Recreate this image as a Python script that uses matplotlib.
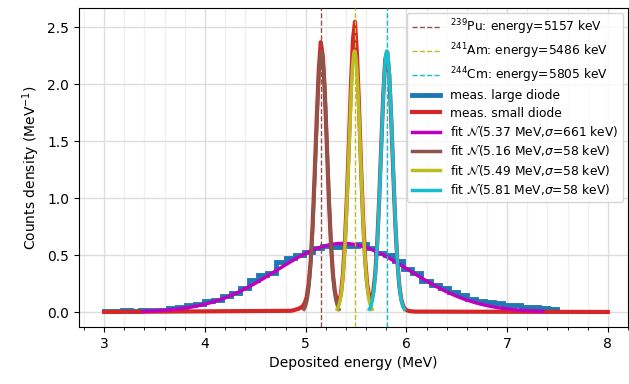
import numpy as np
import matplotlib
matplotlib.use("Agg")
import matplotlib.pyplot as plt
from matplotlib.ticker import MultipleLocator

# source lines (keV)
line_names = ["$^{239}$Pu", "$^{241}$Am", "$^{244}$Cm"]
line_energies = [5157, 5486, 5805]
line_colors = ["tab:brown", "tab:olive", "tab:cyan"]

# large diode histogram, 0.09 MeV bins from 3.0 to 7.5 MeV
large_edges = np.linspace(3.0, 7.5, 51)
large_counts = [0.012, 0.008, 0.018, 0.012, 0.022, 0.015, 0.020, 0.035, 0.045, 0.060,
                0.075, 0.100, 0.110, 0.140, 0.170, 0.210, 0.280, 0.330, 0.340, 0.440,
                0.480, 0.500, 0.530, 0.560, 0.580, 0.570, 0.590, 0.580, 0.600, 0.560,
                0.520, 0.500, 0.450, 0.380, 0.340, 0.270, 0.240, 0.210, 0.180, 0.150,
                0.120, 0.100, 0.090, 0.080, 0.065, 0.060, 0.045, 0.045, 0.035, 0.030]

# small diode: flat floor outside the peaks, 0.02 MeV bin centres 4.85 .. 6.13
small_floor = 0.002
small_range = (3.0, 8.0)
small_centres = np.linspace(4.85, 6.13, 65)
small_counts = [0.012, 0.015, 0.020, 0.025, 0.030, 0.040, 0.050, 0.080, 0.130, 0.250,
                0.450, 0.780, 1.220, 1.700, 2.120, 2.370, 2.250, 1.930, 1.480, 1.000,
                0.620, 0.340, 0.180, 0.100, 0.090, 0.160, 0.330, 0.620, 1.020, 1.500,
                2.000, 2.400, 2.550, 2.250, 1.800, 1.280, 0.820, 0.470, 0.250, 0.140,
                0.110, 0.170, 0.330, 0.600, 0.990, 1.450, 1.900, 2.220, 2.280, 2.080,
                1.690, 1.220, 0.780, 0.450, 0.230, 0.110, 0.050, 0.025, 0.015, 0.010,
                0.008, 0.006, 0.005, 0.005, 0.005]

# gaussian fits: mean (MeV), sigma (MeV), area
fit_means = [5.37, 5.157, 5.486, 5.806]
fit_sigmas = [0.661, 0.058, 0.058, 0.058]
fit_areas = [1.0, 1 / 3, 1 / 3, 1 / 3]
fit_colors = ["m", "tab:brown", "tab:olive", "tab:cyan"]


def gauss(x, mu, sig, a):
    return a / (sig * np.sqrt(2 * np.pi)) * np.exp(-(x - mu) ** 2 / (2 * sig ** 2))


fig = plt.figure(figsize=(6.29, 3.84), dpi=100)
ax = fig.add_axes([79 / 629, 1 - 327 / 384, 549 / 629, 319 / 384])

for name, e, c in zip(line_names, line_energies, line_colors):
    ax.axvline(e / 1000, color=c, ls="--", lw=1, zorder=4,
               label="%s: energy=%d keV" % (name, e))

ax.stairs(large_counts, large_edges, color="tab:blue", lw=3.5, zorder=2,
          label="meas. large diode")

xs_small = np.concatenate([[small_range[0]], small_centres, [small_range[1]]])
ys_small = [small_floor] + small_counts + [small_floor]
ax.plot(xs_small, ys_small, color="tab:red", lw=3, zorder=2.5, label="meas. small diode")

for mu, sig, a, c in zip(fit_means, fit_sigmas, fit_areas, fit_colors):
    xs = np.linspace(mu - 3 * sig, mu + 3 * sig, 200)
    ax.plot(xs, gauss(xs, mu, sig, a), color=c, lw=2.5, zorder=3,
            label=r"fit $\mathcal{N}$(%.2f MeV,$\sigma$=%d keV)" % (mu, round(sig * 1000)))

ax.set_xlim(2.75, 8.2)
ax.set_ylim(-0.13, 2.67)
ax.xaxis.set_major_locator(MultipleLocator(1))
ax.xaxis.set_minor_locator(MultipleLocator(0.2))
ax.yaxis.set_major_locator(MultipleLocator(0.5))
ax.grid(which="major", color="#dddddd", lw=1)
ax.grid(which="minor", axis="x", color="#f0f0f0", lw=1)
ax.set_axisbelow(True)
ax.set_xlabel("Deposited energy (MeV)")
ax.set_ylabel("Counts density (MeV$^{-1}$)")
ax.legend(loc="upper right", fontsize=8.8, labelspacing=0.35, handlelength=2.3,
          borderaxespad=0.4)

fig.savefig("out.png", dpi=100)
